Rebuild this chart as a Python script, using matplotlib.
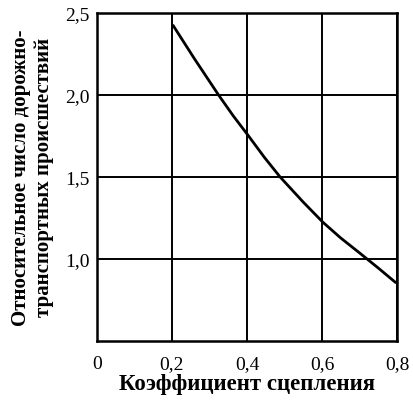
import matplotlib
matplotlib.use("Agg")
import matplotlib.pyplot as plt

# Data
x_vals = [0.204, 0.26, 0.324, 0.364, 0.404, 0.446, 0.488, 0.55, 0.602, 0.65, 0.698, 0.75, 0.795]
y_vals = [2.42, 2.22, 2.00, 1.87, 1.75, 1.62, 1.50, 1.346, 1.224, 1.127, 1.04, 0.944, 0.858]

x_ticks = [0, 0.2, 0.4, 0.6, 0.8]
x_labels = ["0", "0,2", "0,4", "0,6", "0,8"]
y_ticks = [1.0, 1.5, 2.0, 2.5]
y_labels = ["1,0", "1,5", "2,0", "2,5"]

plt.rcParams['font.family'] = ['Liberation Serif', 'DejaVu Serif']

fig = plt.figure(figsize=(4.14, 4.06), dpi=100)
ax = fig.add_axes([0.234, 0.158, 0.725, 0.808])

ax.plot(x_vals, y_vals, color="black", lw=2.0)

ax.set_xlim(0, 0.8)
ax.set_ylim(0.5, 2.5)
ax.set_xticks(x_ticks)
ax.set_xticklabels(x_labels)
ax.set_yticks(y_ticks)
ax.set_yticklabels(y_labels)
ax.tick_params(length=0, labelsize=14)
ax.tick_params(axis="x", pad=10)
ax.tick_params(axis="y", pad=5)
ax.grid(True, color="black", lw=1.4)
for s in ax.spines.values():
    s.set_linewidth(1.8)

ax.set_xlabel("Коэффициент сцепления", fontsize=16.5, fontweight="bold", labelpad=1)
ax.set_ylabel("Относительное число дорожно-\nтранспортных происшествий",
              fontsize=15, fontweight="bold", labelpad=8, linespacing=1.2)

fig.savefig("out.png", dpi=100)
